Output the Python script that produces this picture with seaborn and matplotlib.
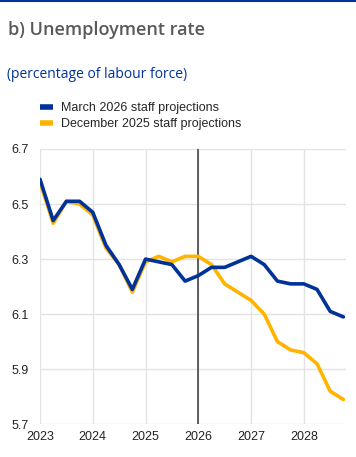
import matplotlib.pyplot as plt
import seaborn as sns
import numpy as np
import pandas as pd
from matplotlib.lines import Line2D

# quarterly unemployment rate, 2023Q1 - 2028Q4
quarters = np.arange(2023, 2029, 0.25)
march_2026 = [6.59, 6.44, 6.51, 6.51, 6.47, 6.35, 6.28, 6.19, 6.30, 6.29, 6.28, 6.22,
              6.24, 6.27, 6.27, 6.29, 6.31, 6.28, 6.22, 6.21, 6.21, 6.19, 6.11, 6.09]
december_2025 = [6.58, 6.43, 6.51, 6.50, 6.46, 6.34, 6.28, 6.18, 6.29, 6.31, 6.29, 6.31,
                 6.31, 6.28, 6.21, 6.18, 6.15, 6.10, 6.00, 5.97, 5.96, 5.92, 5.82, 5.79]
series_names = ['March 2026 staff projections', 'December 2025 staff projections']
year_ticks = [2023, 2024, 2025, 2026, 2027, 2028]
y_ticks = [5.7, 5.9, 6.1, 6.3, 6.5, 6.7]

df = pd.DataFrame({'quarter': np.concatenate([quarters, quarters]),
                   'rate': march_2026 + december_2025,
                   'series': [series_names[0]] * 24 + [series_names[1]] * 24})

sns.set_style('white')
plt.rcParams['font.family'] = ['Liberation Sans', 'DejaVu Sans']

blue = '#003299'
yellow = '#ffb400'

fig = plt.figure(figsize=(3.56, 4.57), dpi=100)
ax = fig.add_axes([0.1124, 0.0716, 0.8596, 0.6024])

# december first so that march sits on top
sns.lineplot(data=df[df.series == series_names[1]], x='quarter', y='rate', color=yellow,
             lw=2.6, ax=ax, legend=False)
sns.lineplot(data=df[df.series == series_names[0]], x='quarter', y='rate', color=blue,
             lw=2.6, ax=ax, legend=False)
ax.axvline(2026, color='#444444', lw=1.2, zorder=1)

ax.set_xlim(2023, 2028.8)
ax.set_ylim(5.7, 6.7)
ax.set_xticks(year_ticks)
ax.set_xticklabels([str(y) for y in year_ticks])
ax.set_yticks(y_ticks)
ax.set_yticklabels([f'{v:.1f}' for v in y_ticks])
ax.grid(True, color='#e3e3e3', lw=1)
ax.set_axisbelow(True)
for s in ax.spines.values():
    s.set_visible(False)
ax.tick_params(axis='y', labelsize=9, colors='#222222', length=0, pad=8)
ax.tick_params(axis='x', labelsize=9, colors='#222222', length=0, pad=5)
ax.set_xlabel('')
ax.set_ylabel('')

# header
fig.add_artist(Line2D([0, 1], [0.998, 0.998], color=blue, lw=1.5, transform=fig.transFigure))
fig.text(8 / 356, 1 - 30 / 457, 'b) Unemployment rate', fontsize=13, color='#595959',
         fontweight='semibold', family=['Open Sans', 'DejaVu Sans'], va='center')
fig.text(7 / 356, 1 - 75 / 457, '(percentage of labour force)', fontsize=10, color=blue,
         family=['Open Sans', 'DejaVu Sans'], va='center')

handles = [Line2D([], [], color=blue, lw=4, solid_capstyle='butt'),
           Line2D([], [], color=yellow, lw=4, solid_capstyle='butt')]
fig.legend(handles, series_names, loc='upper left', bbox_to_anchor=(40 / 356, 1 - 102 / 457),
           frameon=False, fontsize=9, handlelength=1.0, handletextpad=0.7,
           labelspacing=0.35, borderaxespad=0, borderpad=0)

fig.savefig('out.png', dpi=100)
